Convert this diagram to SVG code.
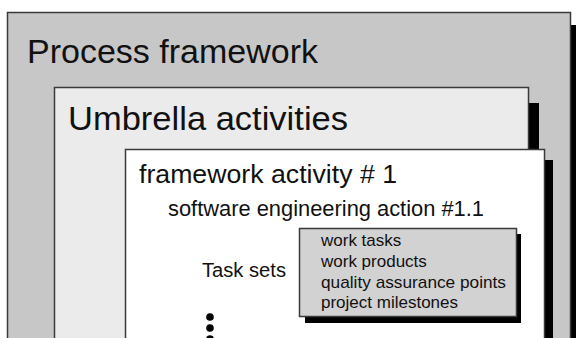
<svg xmlns="http://www.w3.org/2000/svg" width="576" height="338" viewBox="0 0 576 338">
<style>
.box{stroke:#3a3a3a;stroke-width:1.5}
.sh{fill:#000}
text{font-family:"Liberation Sans",Arial,sans-serif;fill:#111}
</style>
<rect x="0" y="0" width="576" height="338" fill="#fff"/>
<g id="process-framework">
<rect class="sh" x="571" y="25" width="10" height="320"/>
<rect class="box" x="7.5" y="12.5" width="563" height="340" fill="#c7c7c7"/>
<text x="27" y="63" font-size="34" textLength="291" lengthAdjust="spacingAndGlyphs">Process framework</text>
</g>
<g id="umbrella-activities">
<rect class="sh" x="529" y="103" width="10" height="250"/>
<rect class="box" x="54.5" y="87.5" width="474" height="265" fill="#ebebeb"/>
<text x="68" y="130" font-size="34" textLength="280" lengthAdjust="spacingAndGlyphs">Umbrella activities</text>
</g>
<g id="framework-activity">
<rect class="sh" x="545" y="160" width="8" height="200"/>
<rect class="box" x="125.5" y="149.5" width="419" height="210" fill="#fff"/>
<text x="139" y="183" font-size="26" textLength="258" lengthAdjust="spacingAndGlyphs">framework activity # 1</text>
<text x="168" y="216" font-size="22" textLength="316" lengthAdjust="spacingAndGlyphs">software engineering action #1.1</text>
<text x="202" y="277" font-size="20" textLength="84" lengthAdjust="spacingAndGlyphs">Task sets</text>
</g>
<g id="task-set">
<rect class="sh" x="305" y="234" width="216" height="89"/>
<rect class="box" x="299.5" y="228.5" width="217" height="88" fill="#d2d2d2"/>
<text x="321" y="246" font-size="17">work tasks</text>
<text x="321" y="267" font-size="17">work products</text>
<text x="321" y="288" font-size="17" textLength="185" lengthAdjust="spacingAndGlyphs">quality assurance points</text>
<text x="321" y="308" font-size="17">project milestones</text>
</g>
<g id="ellipsis">
<circle cx="210" cy="317" r="3.8" fill="#000"/>
<circle cx="210" cy="328" r="3.8" fill="#000"/>
<circle cx="210" cy="339" r="3.8" fill="#000"/>
</g>
<g id="connectors"></g>
</svg>
